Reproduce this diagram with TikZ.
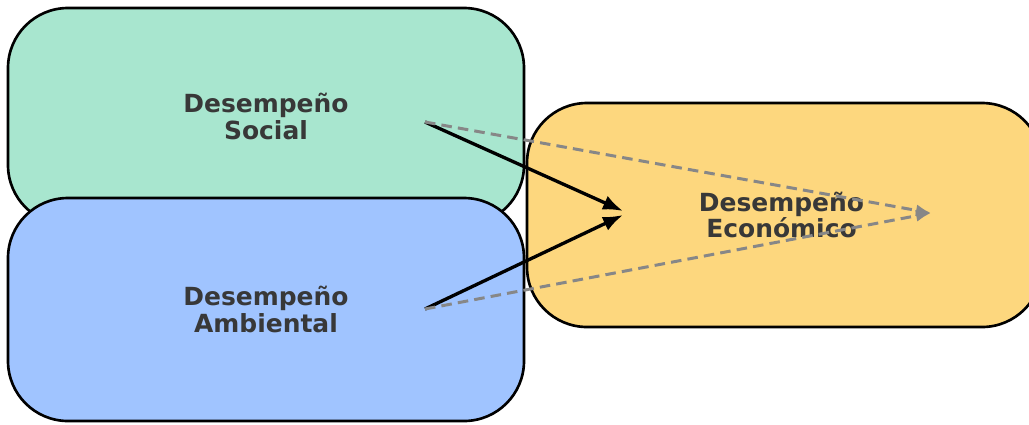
\documentclass[tikz,border=0pt]{standalone}
\usepackage{fontspec}
\setmainfont{DejaVu Sans}
\usepackage{xcolor}
\usetikzlibrary{arrows.meta,positioning}

\definecolor{socialfill}{HTML}{A8E6CF}
\definecolor{ambfill}{HTML}{A0C4FF}
\definecolor{ecofill}{HTML}{FDD77E}
\definecolor{labeltext}{HTML}{383838}
\definecolor{dashgray}{HTML}{878787}

\begin{document}
\begin{tikzpicture}[
    dim/.style={
        rectangle, draw=black, line width=1.5pt, rounded corners=1.2cm,
        align=center, font=\fontsize{14.2}{15.2}\selectfont\bfseries,
        text=labeltext, fill=#1,
    },
    arr/.style={-{Latex[length=0.4cm,width=0.3cm]}, line width=1.9pt},
    darr/.style={-{Latex[length=0.3cm,width=0.24cm]}, line width=1.7pt, dashgray,
        dash pattern=on 6pt off 3.5pt},
]
\useasboundingbox (0,0) rectangle (20.58,-8.48);

% Boxes
\node[dim=socialfill, minimum width=10.32cm, minimum height=4.34cm] (social) at (5.32,-2.33) {Desempeño\\Social};
\node[dim=ambfill, minimum width=10.32cm, minimum height=4.46cm] (amb) at (5.32,-6.19) {Desempeño\\Ambiental};
\node[dim=ecofill, minimum width=10.3cm, minimum height=4.48cm] (eco) at (15.69,-4.3) {\hspace*{-0.12cm}Desempeño\\\hspace*{-0.12cm}Económico};

% Arrow ends
\coordinate (sout) at (8.5,-2.44);
\coordinate (aout) at (8.5,-6.18);
\coordinate (ein1) at (12.46,-4.22);
\coordinate (ein2) at (12.46,-4.3);
\coordinate (etip) at (18.62,-4.26);

\draw[arr] (sout) -- (ein1);
\draw[arr] (aout) -- (ein2);
\draw[darr] (sout) -- (etip);
\draw[darr] (aout) -- (etip);

\end{tikzpicture}
\end{document}
